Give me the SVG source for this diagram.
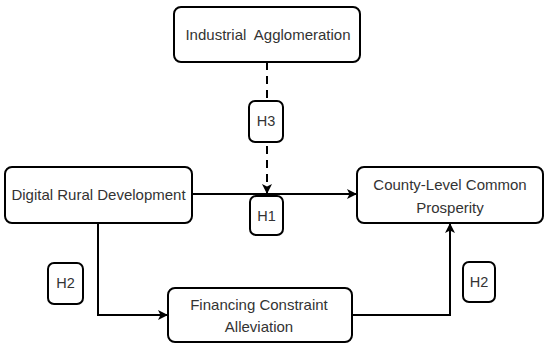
<svg xmlns="http://www.w3.org/2000/svg" width="550" height="349" viewBox="0 0 550 349">
<style>
.box{fill:#fff;stroke:#000;stroke-width:2}
.t{font-family:"Liberation Sans",Arial,sans-serif;font-size:15px;fill:#333;text-anchor:middle}
.h{font-family:"Liberation Sans",Arial,sans-serif;font-size:14.5px;fill:#333;text-anchor:middle}
.c{fill:none;stroke:#000;stroke-width:2}
</style>
<defs>
<marker id="arr" markerWidth="10" markerHeight="10" refX="9" refY="5" orient="auto" markerUnits="userSpaceOnUse">
<path d="M0,0 L10,5 L0,10 L2.5,5 Z" fill="#000"/>
</marker>
</defs>
<rect width="550" height="349" fill="#fff"/>
<g id="connectors">
<line class="c" x1="267" y1="62" x2="267" y2="193" stroke-dasharray="8,6" marker-end="url(#arr)"/>
<line class="c" x1="192" y1="194" x2="356" y2="194" marker-end="url(#arr)"/>
<polyline class="c" points="98,223 98,315 167,315" marker-end="url(#arr)"/>
<polyline class="c" points="352,315 450,315 450,224" marker-end="url(#arr)"/>
</g>
<g id="industrial">
<rect class="box" x="174" y="7" width="186" height="55" rx="7"/>
<text class="t" x="268" y="40" style="white-space:pre" xml:space="preserve">Industrial  Agglomeration</text>
</g>
<g id="digital">
<rect class="box" x="5" y="167" width="187" height="56" rx="7"/>
<text class="t" x="98.5" y="200">Digital Rural Development</text>
</g>
<g id="county">
<rect class="box" x="357" y="167" width="186" height="56" rx="7"/>
<text class="t" x="450" y="190">County-Level Common</text>
<text class="t" x="450" y="213">Prosperity</text>
</g>
<g id="financing">
<rect class="box" x="168" y="288" width="184" height="54" rx="7"/>
<text class="t" x="259" y="310">Financing Constraint</text>
<text class="t" x="259" y="332">Alleviation</text>
</g>
<g id="h3">
<rect class="box" x="249" y="101" width="34" height="41" rx="6"/>
<text class="h" x="266" y="126">H3</text>
</g>
<g id="h1">
<rect class="box" x="250" y="196" width="33" height="39" rx="6"/>
<text class="h" x="266.5" y="221">H1</text>
</g>
<g id="h2left">
<rect class="box" x="48" y="263" width="35" height="41" rx="6"/>
<text class="h" x="65.5" y="288">H2</text>
</g>
<g id="h2right">
<rect class="box" x="463" y="262" width="32" height="40" rx="6"/>
<text class="h" x="479" y="287">H2</text>
</g>
</svg>
